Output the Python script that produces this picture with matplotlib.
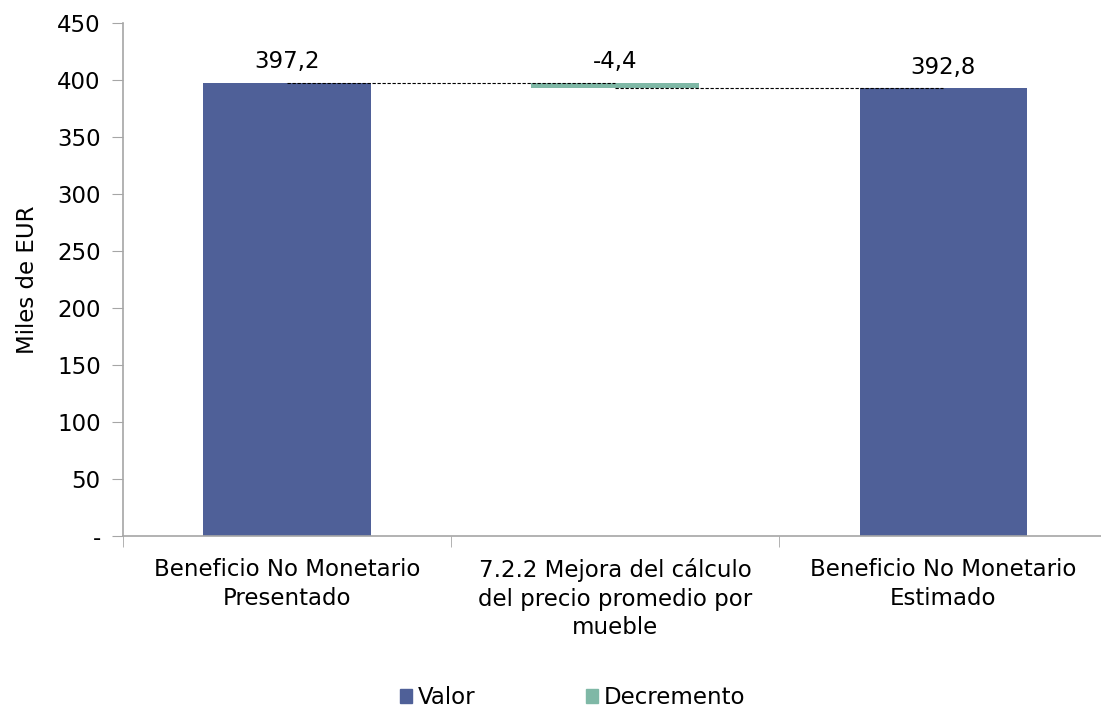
import matplotlib.pyplot as plt
from matplotlib.patches import Patch

# --- datos ---
categorias = [
    "Beneficio No Monetario\nPresentado",
    "7.2.2 Mejora del cálculo\ndel precio promedio por\nmueble",
    "Beneficio No Monetario\nEstimado",
]
inicial = 397.2
cambios = [-4.4]
final = 392.8
etiquetas = ["397,2", "-4,4", "392,8"]
y_ticks = [0, 50, 100, 150, 200, 250, 300, 350, 400, 450]
y_tick_labels = ["-", "50", "100", "150", "200", "250", "300", "350", "400", "450"]

COLOR_VALOR = "#4F6098"
COLOR_DEC = "#7FB8A6"
GRIS = "#A6A6A6"
FS = 16.5

fig = plt.figure(figsize=(11.01, 7.13), dpi=100)
ax = fig.add_axes([0.1117, 0.2483, 0.894, 0.7194])

# barras de valor
ax.bar([0, 2], [inicial, final], width=0.51, color=COLOR_VALOR, zorder=2)

# decremento flotante
base = inicial + cambios[0]
ax.bar([1], [-cambios[0]], bottom=[base], width=0.51, color=COLOR_DEC, zorder=2)

# lineas de conexion
ax.plot([0, 1], [inicial, inicial], color="black", lw=0.8, ls=(0, (3, 1.5)), zorder=3)
ax.plot([1, 2], [base, base], color="black", lw=0.8, ls=(0, (3, 1.5)), zorder=3)

# etiquetas de datos
tops = [inicial, inicial, final]
for x, t, lab in zip([0, 1, 2], tops, etiquetas):
    ax.annotate(lab, (x, t), xytext=(0, 7), textcoords="offset points",
                ha="center", va="bottom", fontsize=FS)

ax.set_xlim(-0.5, 2.5)
ax.set_ylim(0, 450)
ax.set_yticks(y_ticks)
ax.set_yticklabels(y_tick_labels, fontsize=FS)
ax.set_xticks([0, 1, 2])
ax.set_xticklabels(categorias, fontsize=FS, linespacing=1.3)
ax.set_xticks([-0.5, 0.5, 1.5, 2.5], minor=True)
ax.tick_params(axis="x", which="major", length=0, pad=16)
ax.tick_params(axis="x", which="minor", length=8, color=GRIS, direction="out")
ax.tick_params(axis="y", length=8, color=GRIS, direction="out", pad=8)
ax.set_ylabel("Miles de EUR", fontsize=FS, labelpad=13)

for s in ["top", "right"]:
    ax.spines[s].set_visible(False)
for s in ["left", "bottom"]:
    ax.spines[s].set_color(GRIS)
    ax.spines[s].set_linewidth(1.2)

handles = [Patch(color=COLOR_VALOR, label="Valor"), Patch(color=COLOR_DEC, label="Decremento")]
fig.legend(handles=handles, loc="center", bbox_to_anchor=(0.52, 0.022), ncol=2,
           frameon=False, fontsize=FS, handlelength=0.55, handleheight=0.55,
           handletextpad=0.25, columnspacing=4.8)

fig.savefig("out.png", dpi=100)
